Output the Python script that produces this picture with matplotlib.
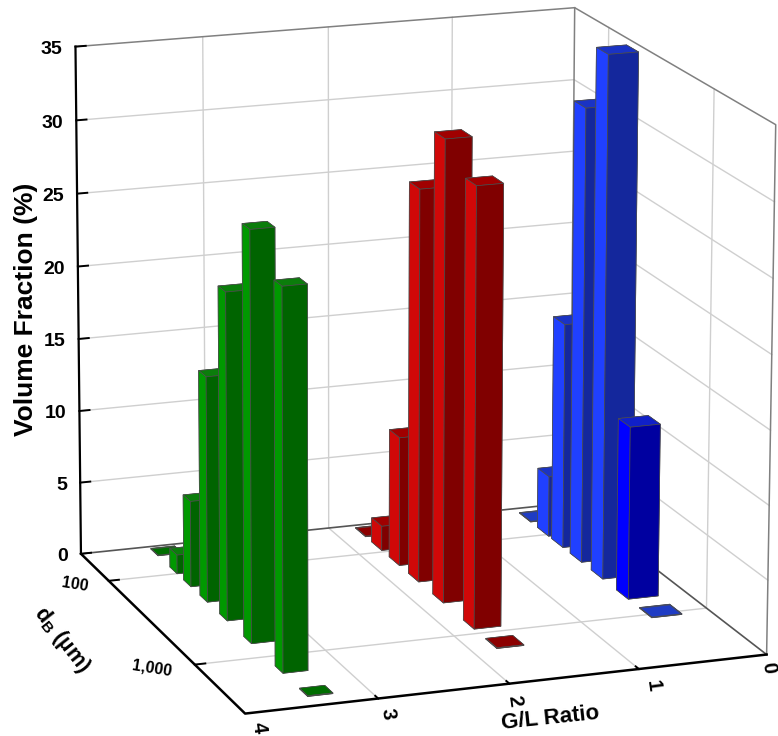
import numpy as np
import matplotlib
matplotlib.use("Agg")
import matplotlib.pyplot as plt
from mpl_toolkits.mplot3d import Axes3D

plt.rcParams["font.family"] = ["Liberation Sans", "DejaVu Sans"]

# bars: G/L position, bubble size (um), volume fraction (%)
green_gl = 3.365
green_db = [54, 91, 132, 204, 343, 638, 1403, 2560]
green_vol = [0.05, 1.3, 5.9, 15.4, 22.2, 27.6, 25.5, 0.05]

red_gl = 1.70
red_db = [58, 87, 135, 217, 393, 811, 1370]
red_vol = [0.05, 1.7, 8.9, 26.9, 31.4, 29.7, 0.05]

blue_gl = 0.35
blue_db = [62, 95, 133, 205, 333, 590, 990]
blue_vol = [0.05, 4.2, 15.6, 31.3, 35.8, 11.8, 0.05]

z_ticks = [0, 5, 10, 15, 20, 25, 30, 35]
gl_ticks = [4, 3, 2, 1, 0]
db_ticks = [100, 1000]
db_labels = ["100", "1,000"]

x0, x1 = 0, 4
y0, y1 = 1.66, 3.55
zmax = 35

# where the box corners sit in the picture, used to fit the camera
world = np.array([
    [4, y1, 0], [0, y1, 0], [4, y0, 0], [0, y0, 0],
    [4, y0, 35], [0, y0, 35], [0, y1, 35],
    [2, y0, 0], [3, y1, 0], [1, y1, 0], [2, y1, 0],
], dtype=float)
pixels = np.array([
    [246, 715], [767, 655], [81, 554], [572, 503],
    [76, 46], [573, 8], [777, 125],
    [328, 528], [378, 698], [638, 668], [508, 683],
], dtype=float)

rows, rhs = [], []
for (X, Y, Z), (u, v) in zip(world, pixels):
    rows.append([X, Y, Z, 1, 0, 0, 0, 0, -u * X, -u * Y, -u * Z])
    rhs.append(u)
    rows.append([0, 0, 0, 0, X, Y, Z, 1, -v * X, -v * Y, -v * Z])
    rhs.append(v)
sol = np.linalg.lstsq(np.array(rows), np.array(rhs), rcond=None)[0]
P = np.append(sol, 1.0).reshape(3, 4)


def pix(x, y, z):
    h = P @ np.array([x, y, z, 1.0])
    return h[0] / h[2], h[1] / h[2]


fig = plt.figure(figsize=(7.78, 7.36), dpi=100)
side = 800
ax = fig.add_axes([(778 - side) / 2 / 778, (736 - side) / 2 / 736, side / 778, side / 736], projection="3d")
ax.set_proj_type("ortho")
ax.set_axis_off()
ax.patch.set_visible(False)


def fitted_proj():
    flip = np.array([[1, 0, 0], [0, -1, 736], [0, 0, 1.0]])
    inv = ax.transData.inverted().get_matrix()
    Q = inv @ flip @ P
    M = np.zeros((4, 4))
    M[0] = Q[0]
    M[1] = Q[1]
    M[3] = Q[2]
    # depth row: far corner is low G/L and low dB
    M[2] = [-0.12, -0.5, -0.002, 5.0]
    return M


ax.get_proj = fitted_proj

grid = "#cfcfcf"
frame = "#808080"
lw = 1.0

for z in z_ticks[1:-1]:
    ax.plot([x1, x0, x0], [y0, y0, y1], [z, z, z], color=grid, lw=lw)
for g in gl_ticks[1:-1]:
    ax.plot([g, g, g], [y1, y0, y0], [0, 0, zmax], color=grid, lw=lw)
for d in db_ticks:
    yd = np.log10(d)
    ax.plot([x1, x0, x0], [yd, yd, yd], [0, 0, zmax], color=grid, lw=lw)

# frame
ax.plot([x1, x0, x0, x0], [y0, y0, y1, y1], [zmax, zmax, zmax, 0], color=frame, lw=1.1)
ax.plot([x0, x0], [y0, y0], [0, zmax], color=frame, lw=1.1)
ax.plot([x1, x0, x0], [y0, y0, y1], [0, 0, 0], color="#555555", lw=1.2)

# black axes with short ticks
ax.plot([x1, x1], [y0, y0], [0, zmax], color="black", lw=1.6)
ax.plot([x1, x1, x0], [y0, y1, y1], [0, 0, 0], color="black", lw=1.8)
for z in z_ticks:
    ax.plot([x1, x1 - 0.08], [y0, y0], [z, z], color="black", lw=1.4)
for d in db_ticks:
    ax.plot([x1, x1 - 0.08], [np.log10(d)] * 2, [0, 0], color="black", lw=1.4)
for g in gl_ticks[1:-1]:
    ax.plot([g, g], [y1, y1 - 0.03], [0, 0], color="black", lw=1.4)


def bars(gl, db, vol, faces, w, d):
    n = len(db)
    xs = np.full(n, gl - w / 2)
    ys = np.log10(db) + 0.0425 - d
    colors = []
    for i in range(n):
        colors += faces[i]
    ax.bar3d(xs, ys, np.zeros(n), w, d, vol, color=colors, shade=False,
             edgecolor="#4d4d4d", linewidth=0.5)


# face order: bottom, top, back, front, far side, near side
g_face = ["#006400", "#0b7d0b", "#006400", "#006400", "#009000", "#009900"]
g_flat = ["#006e00"] * 6
r_face = ["#800000", "#a00000", "#800000", "#800000", "#d01010", "#d00808"]
r_flat = ["#8c0000"] * 6
b_face = ["#14279c", "#1a33c4", "#14279c", "#14279c", "#2040ff", "#2040ff"]
b_last = ["#0000a0", "#1020c8", "#0000a0", "#0000a0", "#0000ff", "#0000ff"]
b_flat = ["#1f3cc4"] * 6

bars(green_gl, green_db, green_vol, [g_flat] + [g_face] * 6 + [g_flat], 0.19, 0.085)
bars(red_gl, red_db, red_vol, [r_flat] + [r_face] * 5 + [r_flat], 0.21, 0.11)
bars(blue_gl, blue_db, blue_vol, [b_flat] + [b_face] * 4 + [b_last] + [b_flat], 0.24, 0.115)


def label(px, py, s, **kw):
    fig.text(px / 778, 1 - py / 736, s, ha="center", va="center", fontweight="bold", **kw)


for z in z_ticks:
    px, py = pix(x1, y0, z)
    fig.text((px - 13) / 778, 1 - (py + 3) / 736, str(z), ha="right", va="center",
             fontweight="bold", fontsize=14)

gl_offsets = [(14, 14), (10, 15), (5, 17), (14, 17), (2, 13)]
for g, (ox, oy) in zip(gl_ticks, gl_offsets):
    px, py = pix(g, y1, 0)
    label(px + ox, py + oy, str(g), fontsize=14.5, rotation=-82)

for d, s in zip(db_ticks, db_labels):
    px, py = pix(x1, np.log10(d), 0)
    label(px - (34 if d == 100 else 43), py + 4, s, fontsize=11.5, rotation=-9)

label(26, 309, "Volume Fraction (%)", fontsize=19, rotation=90)
label(550, 718, "G/L Ratio", fontsize=16, rotation=6)
label(62, 640, "d$_{\\mathregular{B}}$ (µm)", fontsize=15.5, rotation=-52)

fig.savefig("out.png", dpi=100)
